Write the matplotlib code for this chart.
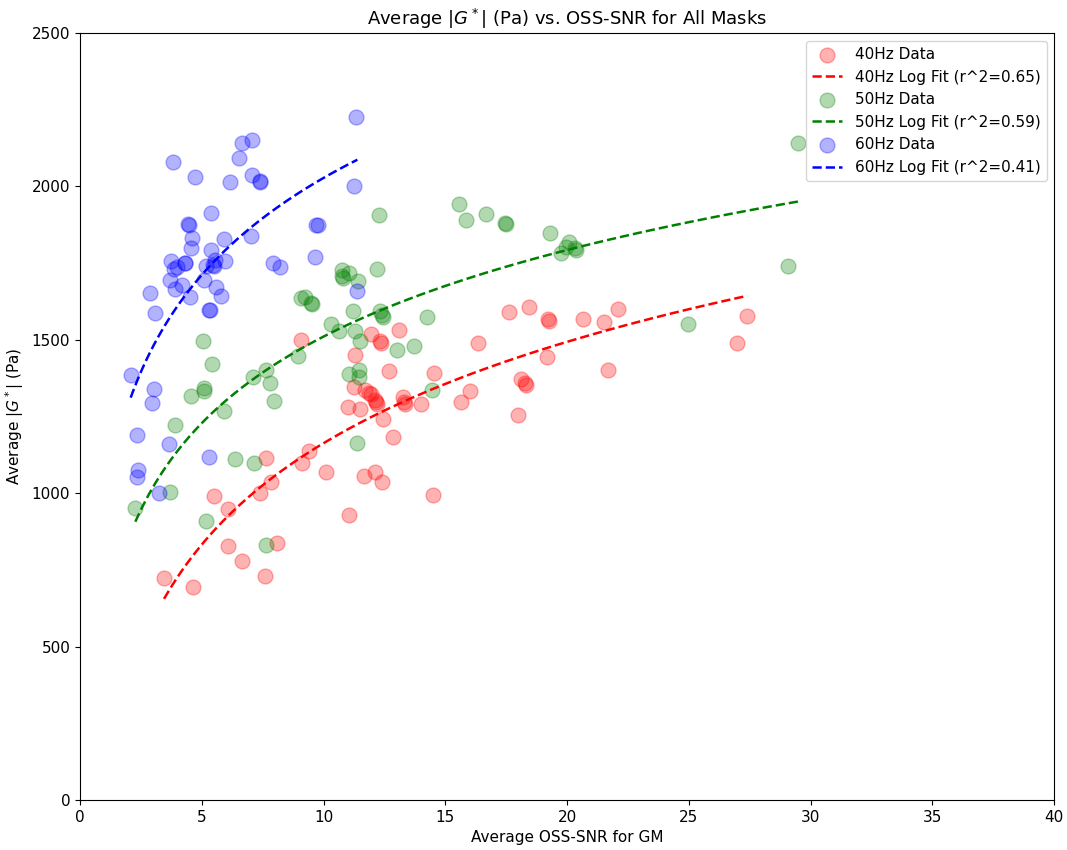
import numpy as np
import matplotlib
matplotlib.use("Agg")
import matplotlib.pyplot as plt

# 40Hz data (SNR, |G*|)
snr_40 = [3.45, 4.65, 5.50, 6.08, 6.06, 6.64, 7.61, 8.08, 7.63, 7.37, 7.83, 9.13, 9.42, 10.10, 11.06,
          9.09, 11.96, 13.09, 12.30, 12.34, 11.29, 17.62, 18.45, 19.21, 19.25, 16.36, 19.19, 12.68, 14.54,
          11.23, 11.70, 11.85, 11.95, 12.10, 12.15, 12.20, 11.02, 11.50, 12.43, 13.25, 13.31, 13.35, 13.99,
          15.63, 16.02, 18.10, 18.26, 18.30, 17.97, 12.84, 11.68, 12.13, 12.40, 14.51, 20.66, 21.50, 22.07,
          21.68, 27.40, 26.97]
g_40 = [722, 693, 991, 949, 829, 778, 730, 839, 1116, 1000, 1038, 1097, 1136, 1070, 929,
        1500, 1518, 1532, 1495, 1490, 1451, 1590, 1606, 1568, 1562, 1489, 1443, 1399, 1391,
        1345, 1338, 1327, 1322, 1305, 1297, 1292, 1280, 1273, 1243, 1312, 1296, 1291, 1290,
        1297, 1334, 1373, 1358, 1353, 1256, 1184, 1056, 1069, 1037, 995, 1569, 1557, 1600,
        1400, 1578, 1489]

# 50Hz data
snr_50 = [2.27, 3.70, 3.89, 5.16, 5.06, 5.43, 5.09, 5.09, 4.54, 5.90, 6.35, 7.16, 7.63, 7.12, 7.63,
          7.79, 7.97, 8.93, 9.08, 9.24, 9.49, 9.53, 10.29, 10.65, 11.31, 11.50, 11.22, 12.32, 12.40,
          12.44, 10.75, 10.76, 10.80, 11.06, 11.43, 12.20, 12.29, 14.26, 13.00, 13.70, 11.06, 11.44,
          11.44, 14.46, 11.39, 15.58, 15.84, 16.65, 17.45, 17.48, 19.29, 19.74, 20.08, 19.96, 20.31,
          20.35, 24.98, 29.09, 29.49]
g_50 = [951, 1003, 1221, 908, 1496, 1422, 1343, 1333, 1317, 1269, 1110, 1100, 831, 1379, 1402,
        1358, 1302, 1448, 1638, 1640, 1621, 1617, 1551, 1530, 1528, 1495, 1595, 1595, 1580,
        1576, 1729, 1707, 1703, 1718, 1693, 1732, 1908, 1575, 1467, 1481, 1389, 1402,
        1380, 1337, 1165, 1942, 1890, 1910, 1882, 1878, 1847, 1782, 1818, 1804, 1798,
        1794, 1550, 1742, 2141]

# 60Hz data
snr_60 = [11.33, 6.64, 7.08, 6.52, 3.81, 4.72, 6.15, 7.08, 7.37, 7.41, 11.23, 5.37, 9.70, 9.76, 4.43,
          4.47, 7.01, 5.93, 4.59, 4.56, 5.38, 9.65, 3.75, 5.54, 5.95, 4.33, 3.85, 4.00, 4.30, 5.17,
          5.48, 5.52, 7.91, 8.21, 3.70, 4.19, 5.09, 5.59, 3.91, 4.52, 5.78, 2.86, 3.09, 5.29, 5.35,
          11.39, 2.08, 3.04, 2.94, 2.33, 3.65, 5.31, 2.40, 2.33, 3.26]
g_60 = [2228, 2143, 2153, 2093, 2080, 2030, 2016, 2036, 2018, 2014, 2000, 1914, 1876, 1874, 1877,
        1873, 1840, 1830, 1833, 1799, 1793, 1769, 1757, 1760, 1758, 1749, 1730, 1737, 1752, 1742,
        1744, 1740, 1750, 1738, 1695, 1679, 1694, 1672, 1665, 1641, 1644, 1652, 1589, 1598, 1596,
        1658, 1385, 1341, 1294, 1189, 1160, 1119, 1074, 1052, 1000]

freqs = ["40Hz", "50Hz", "60Hz"]
colors = ["red", "green", "blue"]
r2_vals = [0.65, 0.59, 0.41]
snr_all = [snr_40, snr_50, snr_60]
g_all = [g_40, g_50, g_60]

fig, ax = plt.subplots(figsize=(10.67, 8.5), dpi=100)

for freq, col, r2, x, y in zip(freqs, colors, r2_vals, snr_all, g_all):
    x = np.array(x)
    y = np.array(y)
    ax.scatter(x, y, s=115, color=col, alpha=0.3, label=freq + " Data")
    # log fit y = a*ln(x) + b
    a, b = np.polyfit(np.log(x), y, 1)
    xf = np.linspace(x.min(), x.max(), 100)
    ax.plot(xf, a * np.log(xf) + b, "--", color=col, linewidth=1.8,
            label="%s Log Fit (r^2=%.2f)" % (freq, r2))

ax.set_xlim(0, 40)
ax.set_ylim(0, 2500)
ax.set_xlabel("Average OSS-SNR for GM", fontsize=11)
ax.set_ylabel("Average $|G^*|$ (Pa)", fontsize=11)
ax.set_title("Average $|G^*|$ (Pa) vs. OSS-SNR for All Masks", fontsize=13)
ax.tick_params(labelsize=11)
ax.legend(loc="upper right", fontsize=11)
plt.subplots_adjust(left=0.075, right=0.988, bottom=0.059, top=0.961)
plt.savefig("out.png", dpi=100)
